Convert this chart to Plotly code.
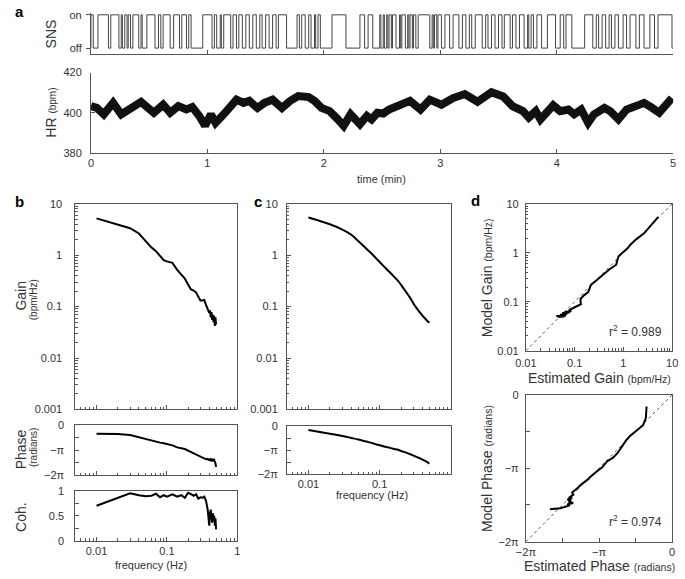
import plotly.graph_objects as go

W, H = 685, 579

# ---------------- data ----------------
# SNS stimulation: start / end of each "on" period (min)
sns_on_start = [0.00, 0.06, 0.17, 0.26, 0.29, 0.32, 0.36, 0.43, 0.48, 0.58, 0.62, 0.71, 0.78, 0.84,
                0.96, 1.06, 1.11, 1.14, 1.22, 1.27, 1.33, 1.39, 1.45, 1.50, 1.56, 1.61,
                1.77, 1.81, 1.87, 1.92, 1.95, 2.07, 2.31, 2.38, 2.48, 2.51, 2.54, 2.56, 2.59,
                2.65, 2.67, 2.72, 2.74, 2.77, 2.81, 2.93, 2.95, 2.98, 3.04, 3.11, 3.19, 3.25, 3.30,
                3.39, 3.44, 3.50, 3.55, 3.62, 3.68, 3.75, 3.78, 3.83, 3.92, 4.03, 4.08, 4.24,
                4.34, 4.39, 4.45, 4.50, 4.57, 4.63, 4.71, 4.80, 4.87]
sns_on_end = [0.02, 0.15, 0.24, 0.27, 0.31, 0.34, 0.41, 0.44, 0.55, 0.60, 0.68, 0.76, 0.82, 0.86,
              1.04, 1.08, 1.12, 1.20, 1.25, 1.30, 1.36, 1.42, 1.47, 1.53, 1.59, 1.68,
              1.79, 1.84, 1.89, 1.93, 1.97, 2.19, 2.35, 2.42, 2.49, 2.52, 2.55, 2.58, 2.62,
              2.66, 2.70, 2.73, 2.76, 2.79, 2.91, 2.94, 2.97, 3.01, 3.08, 3.16, 3.22, 3.27, 3.36,
              3.41, 3.47, 3.53, 3.60, 3.65, 3.72, 3.76, 3.80, 3.87, 3.99, 4.06, 4.13, 4.31,
              4.36, 4.42, 4.47, 4.53, 4.60, 4.68, 4.75, 4.84, 4.99]

# Heart rate (bpm) vs time (min)
hr_time = [0.00, 0.05, 0.11, 0.19, 0.26, 0.33, 0.43, 0.54, 0.62, 0.68, 0.75, 0.82, 0.87, 0.93, 0.98,
           1.03, 1.07, 1.14, 1.20, 1.25, 1.31, 1.36, 1.43, 1.49, 1.56, 1.64, 1.71, 1.78, 1.87, 1.92,
           1.98, 2.05, 2.12, 2.17, 2.23, 2.31, 2.37, 2.41, 2.46, 2.51, 2.56, 2.65, 2.74, 2.83, 2.91,
           3.01, 3.11, 3.21, 3.32, 3.44, 3.54, 3.62, 3.71, 3.76, 3.82, 3.86, 3.93, 3.97, 4.03, 4.10,
           4.15, 4.21, 4.27, 4.32, 4.41, 4.46, 4.53, 4.60, 4.68, 4.75, 4.82, 4.88, 4.94, 4.99]
hr_bpm = [403.3, 402.4, 399.2, 404.9, 399.2, 401.6, 405.4, 400.0, 404.0, 400.0, 403.3, 401.6, 402.8, 398.4, 393.5,
          399.2, 395.0, 399.2, 403.3, 406.5, 404.9, 405.9, 402.4, 404.9, 406.5, 402.4, 405.9, 408.3, 407.8, 405.9,
          402.4, 400.8, 396.7, 393.5, 399.2, 394.3, 398.4, 396.7, 400.0, 399.6, 401.6, 403.3, 405.9, 401.6, 406.5,
          404.0, 407.3, 409.3, 405.5, 410.2, 408.1, 403.3, 400.8, 397.6, 400.8, 396.7, 400.8, 403.7, 400.8, 401.6,
          399.2, 401.6, 395.0, 399.2, 402.4, 400.8, 396.7, 401.6, 403.3, 404.9, 402.4, 400.0, 404.0, 407.3]

# Transfer function (frequency in Hz)
freq = [0.01, 0.02, 0.03, 0.04, 0.05, 0.06, 0.07, 0.08, 0.09, 0.10, 0.12, 0.14, 0.16, 0.18, 0.20,
        0.22, 0.24, 0.26, 0.28, 0.30, 0.32, 0.34, 0.36, 0.38, 0.40, 0.41, 0.42, 0.43, 0.44, 0.45,
        0.46, 0.47, 0.48, 0.49, 0.50]
gain_est = [5.2, 4.0, 3.35, 2.65, 1.85, 1.42, 1.2, 0.95, 0.8, 0.76, 0.71, 0.52, 0.42, 0.35, 0.27,
            0.215, 0.205, 0.19, 0.155, 0.132, 0.132, 0.135, 0.108, 0.093, 0.076, 0.085, 0.062, 0.078, 0.055, 0.07,
            0.05, 0.066, 0.042, 0.062, 0.045]
phase_est = [-1.10, -1.13, -1.25, -1.55, -1.80, -1.98, -2.08, -2.20, -2.27, -2.35, -2.55, -2.80, -2.92, -3.00, -3.20,
             -3.38, -3.50, -3.62, -3.80, -3.95, -4.05, -4.20, -4.30, -4.25, -4.40, -4.30, -4.50, -4.35, -4.45, -4.25,
             -4.50, -4.40, -4.60, -4.80, -5.25]
coh_est = [0.70, 0.86, 0.95, 0.91, 0.89, 0.90, 0.94, 0.87, 0.91, 0.88, 0.93, 0.88, 0.91, 0.86, 0.96,
           0.93, 0.90, 0.93, 0.84, 0.87, 0.86, 0.88, 0.80, 0.62, 0.30, 0.55, 0.62, 0.48, 0.36, 0.55,
           0.40, 0.50, 0.30, 0.45, 0.23]
gain_model = [5.4, 4.0, 3.15, 2.5, 1.9, 1.5, 1.22, 1.02, 0.86, 0.74, 0.57, 0.46, 0.38, 0.32, 0.265,
              0.22, 0.185, 0.158, 0.135, 0.114, 0.1, 0.089, 0.08, 0.073, 0.067, 0.064, 0.062, 0.060, 0.058, 0.056,
              0.054, 0.052, 0.051, 0.050, 0.049]
phase_model = [-0.50, -1.00, -1.30, -1.55, -1.75, -1.95, -2.10, -2.25, -2.40, -2.50, -2.70, -2.85, -3.00, -3.10, -3.25,
               -3.38, -3.50, -3.62, -3.75, -3.87, -3.98, -4.08, -4.18, -4.28, -4.38, -4.43, -4.48, -4.53, -4.58, -4.63,
               -4.68, -4.73, -4.80, -4.85, -4.90]

r2_gain = "0.989"
r2_phase = "0.974"

# ---------------- styling helpers ----------------
PI = 3.141592653589793
FONT = "Arial, 'Liberation Sans', sans-serif"
LC = "#555555"
TC = "#333333"


def X(px):
    return px / W


def Y(py):
    return 1 - py / H


def dom_x(a, b):
    return [X(a), X(b)]


def dom_y(top, bot):
    return [Y(bot), Y(top)]


def base_axis(**kw):
    d = dict(showgrid=False, zeroline=False, showline=True, linecolor=LC, linewidth=1,
             ticks="inside", tickcolor=LC, ticklen=4, tickwidth=1,
             tickfont=dict(size=11, color=TC, family=FONT))
    d.update(kw)
    return d


def log_minor(lo, hi):
    vals = []
    for e in range(lo, hi):
        for k in range(2, 10):
            vals.append(k * 10 ** e)
    return dict(tickmode="array", tickvals=vals, ticks="inside", ticklen=2.5,
                tickcolor=LC, tickwidth=1, showgrid=False)


def lin_minor(vals):
    return dict(tickmode="array", tickvals=vals, ticks="inside", ticklen=4,
                tickcolor=LC, tickwidth=1, showgrid=False)


fig = go.Figure()

# SNS step trace built from the on-intervals
sx, sy = [0.0], [0]
for s, e in zip(sns_on_start, sns_on_end):
    sx += [s, s, e, e]
    sy += [0, 1, 1, 0]
sx.append(5.0)
sy.append(0)
fig.add_trace(go.Scatter(x=sx, y=sy, mode="lines", line=dict(color="#444444", width=1),
                         xaxis="x", yaxis="y", hoverinfo="skip"))

fig.add_trace(go.Scatter(x=hr_time, y=hr_bpm, mode="lines", line=dict(color="#111111", width=8),
                         xaxis="x2", yaxis="y2"))

blk = dict(color="black", width=2)
fig.add_trace(go.Scatter(x=freq, y=gain_est, mode="lines", line=blk, xaxis="x3", yaxis="y3"))
fig.add_trace(go.Scatter(x=freq, y=phase_est, mode="lines", line=blk, xaxis="x4", yaxis="y4"))
fig.add_trace(go.Scatter(x=freq, y=coh_est, mode="lines", line=blk, xaxis="x5", yaxis="y5"))
fig.add_trace(go.Scatter(x=freq, y=gain_model, mode="lines", line=dict(color="black", width=2, shape="spline"),
                         xaxis="x6", yaxis="y6"))
fig.add_trace(go.Scatter(x=freq, y=phase_model, mode="lines", line=dict(color="black", width=2, shape="spline"),
                         xaxis="x7", yaxis="y7"))

# identity lines
fig.add_trace(go.Scatter(x=[0.01, 10], y=[0.01, 10], mode="lines",
                         line=dict(color="#555555", width=1, dash="3px,3px"), xaxis="x8", yaxis="y8"))
fig.add_trace(go.Scatter(x=[-2 * PI, 0], y=[-2 * PI, 0], mode="lines",
                         line=dict(color="#555555", width=1, dash="3px,3px"), xaxis="x9", yaxis="y9"))
fig.add_trace(go.Scatter(x=gain_est, y=gain_model, mode="lines", line=blk, xaxis="x8", yaxis="y8"))
fig.add_trace(go.Scatter(x=phase_est, y=phase_model, mode="lines", line=blk, xaxis="x9", yaxis="y9"))

dec_vals = [0.001, 0.01, 0.1, 1, 10]
dec_text = ["0.001", "0.01", "0.1", "1", "10"]
phase_vals = [-2 * PI, -PI, 0]
phase_text = ["\u22122\u03c0", "\u2212\u03c0", "0"]
phase_minor = [-1.5 * PI, -0.5 * PI]
fx_range = [-2.30103, 0]

layout = dict(
    width=W, height=H, margin=dict(l=0, r=0, t=0, b=0),
    paper_bgcolor="white", plot_bgcolor="white", showlegend=False,
    font=dict(family=FONT, color=TC),
    # a: SNS
    xaxis=base_axis(domain=dom_x(82, 679), range=[0, 5], anchor="y", tickvals=[0, 1, 2, 3, 4, 5],
                    showticklabels=False),
    yaxis=base_axis(domain=dom_y(7, 49), range=[-0.1765, 1.0588], anchor="x", tickvals=[0, 1],
                    ticktext=["off", "on"], ticks="outside", ticklabelstandoff=2),
    # a: HR
    xaxis2=base_axis(domain=dom_x(82, 679), range=[0, 5], anchor="y2", tickvals=[0, 1, 2, 3, 4, 5]),
    yaxis2=base_axis(domain=dom_y(68, 150), range=[380, 420], anchor="x2", tickvals=[380, 400, 420],
                     ticklabelstandoff=6),
    # b gain
    xaxis3=base_axis(domain=dom_x(66, 232), type="log", range=fx_range, anchor="y3", mirror=True,
                     tickvals=[0.01, 0.1, 1], showticklabels=False, minor=log_minor(-3, 0)),
    yaxis3=base_axis(domain=dom_y(202, 412), type="log", range=[-3, 1], anchor="x3", mirror=True,
                     tickvals=dec_vals, ticktext=dec_text, minor=log_minor(-3, 1), ticklabelstandoff=10),
    # b phase
    xaxis4=base_axis(domain=dom_x(66, 232), type="log", range=fx_range, anchor="y4", mirror=True,
                     tickvals=[0.01, 0.1, 1], showticklabels=False, minor=log_minor(-3, 0)),
    yaxis4=base_axis(domain=dom_y(428, 479), range=[-2 * PI, 0], anchor="x4", mirror=True,
                     tickvals=phase_vals, ticktext=phase_text, minor=lin_minor(phase_minor),
                     ticklabelstandoff=8),
    # b coherence
    xaxis5=base_axis(domain=dom_x(66, 232), type="log", range=fx_range, anchor="y5", mirror=True,
                     tickvals=[0.01, 0.1, 1], ticktext=["0.01", "0.1", "1"], minor=log_minor(-3, 0)),
    yaxis5=base_axis(domain=dom_y(495, 546), range=[0, 1], anchor="x5", mirror=True,
                     tickvals=[0, 0.5, 1], ticktext=["0", "0.5", "1"], minor=lin_minor([0.25, 0.75]),
                     ticklabelstandoff=8),
    # c gain
    xaxis6=base_axis(domain=dom_x(283, 451), type="log", range=fx_range, anchor="y6", mirror=True,
                     tickvals=[0.01, 0.1, 1], showticklabels=False, minor=log_minor(-3, 0)),
    yaxis6=base_axis(domain=dom_y(202, 412), type="log", range=[-3, 1], anchor="x6", mirror=True,
                     tickvals=dec_vals, ticktext=dec_text, minor=log_minor(-3, 1), ticklabelstandoff=6),
    # c phase
    xaxis7=base_axis(domain=dom_x(283, 451), type="log", range=fx_range, anchor="y7", mirror=True,
                     tickvals=[0.01, 0.1], ticktext=["0.01", "0.1"], minor=log_minor(-3, 0),
                     ticklabelstandoff=0),
    yaxis7=base_axis(domain=dom_y(429, 478), range=[-2 * PI, 0], anchor="x7", mirror=True,
                     tickvals=phase_vals, ticktext=phase_text, minor=lin_minor(phase_minor),
                     ticklabelstandoff=6),
    # d gain
    xaxis8=base_axis(domain=dom_x(528, 678), type="log", range=[-2, 1], anchor="y8", mirror=True,
                     tickvals=[0.01, 0.1, 1, 10], ticktext=["0.01", "0.1", "1", "10"],
                     minor=log_minor(-2, 1), ticklabelstandoff=2),
    yaxis8=base_axis(domain=dom_y(202, 352), type="log", range=[-2, 1], anchor="x8", mirror=True,
                     tickvals=[0.01, 0.1, 1, 10], ticktext=["0.01", "0.1", "1", "10"],
                     minor=log_minor(-2, 1), ticklabelstandoff=4),
    # d phase
    xaxis9=base_axis(domain=dom_x(528, 678), range=[-2 * PI, 0], anchor="y9", mirror=True,
                     tickvals=phase_vals, ticktext=phase_text, minor=lin_minor(phase_minor),
                     ticklabelstandoff=0),
    yaxis9=base_axis(domain=dom_y(397, 547), range=[-2 * PI, 0], anchor="x9", mirror=True,
                     tickvals=phase_vals, ticktext=phase_text, minor=lin_minor(phase_minor),
                     ticklabelstandoff=4),
)

anns = []


def ann(text, x, y, size=11, angle=0, bold=False, color=TC, xanchor="center", yanchor="middle"):
    if bold:
        text = "<b>" + text + "</b>"
    anns.append(dict(text=text, x=X(x), y=Y(y), xref="paper", yref="paper", showarrow=False,
                     textangle=angle, xanchor=xanchor, yanchor=yanchor,
                     font=dict(size=size, color=color, family=FONT)))


# panel letters
ann("a", 2, 6, size=15, bold=True, color="black", xanchor="left")
ann("b", 2, 200, size=15, bold=True, color="black", xanchor="left")
ann("c", 247, 200, size=15, bold=True, color="black", xanchor="left")
ann("d", 470, 199, size=15, bold=True, color="black", xanchor="left")

# axis titles
ann("SNS", 41, 28, size=14, angle=-90)
ann("HR <span style='font-size:10px'>(bpm)</span>", 41, 109, size=14, angle=-90)
ann("time (min)", 380, 177, size=11)
ann("Gain", 10, 296, size=14, angle=-90)
ann("(bpm/Hz)", 23, 300, size=10, angle=-90)
ann("Phase", 10, 453, size=14, angle=-90)
ann("(radians)", 23, 451, size=10, angle=-90)
ann("Coh.", 10, 522, size=14, angle=-90)
ann("frequency (Hz)", 144, 571, size=11)
ann("frequency (Hz)", 370, 499, size=11)
ann("Model Gain <span style='font-size:10.5px'>(bpm/Hz)</span>", 488, 277, size=14, angle=-90)
ann("Estimated Gain <span style='font-size:10.5px'>(bpm/Hz)</span>", 603, 380, size=14)
ann("Model Phase <span style='font-size:10.5px'>(radians)</span>", 488, 472, size=14, angle=-90)
ann("Estimated Phase <span style='font-size:10.5px'>(radians)</span>", 603, 572, size=14)
ann("r<sup>2</sup> = " + r2_gain, 640, 332, size=12)
ann("r<sup>2</sup> = " + r2_phase, 640, 526, size=12)

layout["annotations"] = anns
fig.update_layout(**layout)
fig.write_html("out.html", config={"displayModeBar": False},
               post_script="document.body.style.margin='0px';")
